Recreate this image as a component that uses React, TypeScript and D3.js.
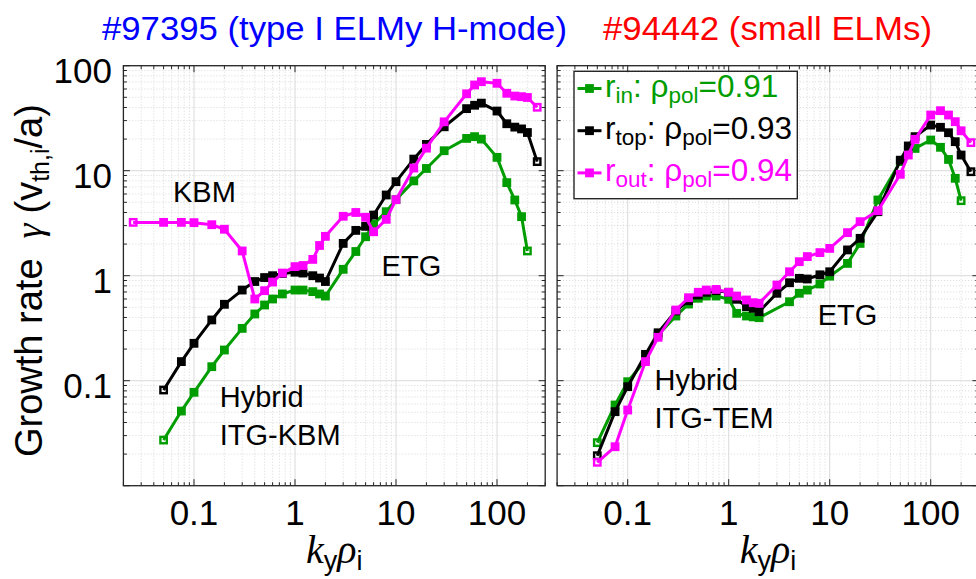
import * as d3 from "d3";

const WIDTH = 976;
const HEIGHT = 579;

const PLOT_TOP = 65.7;
const PLOT_BOTTOM = 485.7;
const PLOT_W = 421.8;
const LEFT_X0 = 123.4;
const RIGHT_X0 = 557.1;

const K_DOMAIN: [number, number] = [0.02, 300];
const G_DOMAIN: [number, number] = [0.01, 100];

const X_TICKS = [0.1, 1, 10, 100];
const X_TICK_LABELS = ["0.1", "1", "10", "100"];
const Y_TICKS = [0.1, 1, 10, 100];
const Y_TICK_LABELS = ["0.1", "1", "10", "100"];

// #97395 (type I ELMy H-mode)
const KY_97395_OUT = [0.025, 0.05, 0.075, 0.1, 0.15, 0.2, 0.3, 0.4, 0.5, 0.6, 0.75, 1, 1.2, 1.5, 1.75, 2, 3, 4, 5, 6, 8, 10, 15, 20, 30, 50, 60, 70, 100, 125, 150, 175, 200, 250];
const GAMMA_97395_OUT = [3.22, 3.22, 3.22, 3.2, 3.06, 2.77, 1.72, 0.6, 0.72, 0.87, 1.06, 1.22, 1.25, 1.43, 1.94, 2.37, 3.68, 4.0, 3.6, 2.62, 3.44, 5.3, 10.6, 16.4, 29.2, 54, 65.5, 70.4, 68, 54.6, 51.4, 50.7, 49.8, 40.2];
const KY_97395 = [0.05, 0.075, 0.1, 0.15, 0.2, 0.3, 0.4, 0.5, 0.6, 0.75, 1, 1.2, 1.5, 1.75, 2, 3, 4, 5, 6, 8, 10, 15, 20, 30, 50, 60, 70, 100, 125, 150, 175, 200, 250];
const GAMMA_97395_TOP = [0.0815, 0.152, 0.227, 0.379, 0.534, 0.73, 0.88, 0.96, 1.0, 1.05, 1.08, 1.06, 1.0, 0.95, 0.88, 2.03, 2.7, 2.95, 3.78, 5.87, 7.86, 12.9, 17.8, 26.2, 39, 42, 44, 37, 28, 26, 25, 23.1, 12.2];
const GAMMA_97395_IN = [0.0272, 0.0514, 0.0775, 0.136, 0.196, 0.315, 0.432, 0.526, 0.6, 0.67, 0.73, 0.73, 0.705, 0.67, 0.64, 1.15, 1.7, 2.35, 3.1, 4.07, 5.3, 8.0, 10.5, 15.5, 20.3, 21.1, 20, 13.4, 7.7, 5.26, 3.65, 1.72];

// #94442 (small ELMs)
const KY_94442 = [0.05, 0.075, 0.1, 0.15, 0.2, 0.3, 0.4, 0.5, 0.6, 0.75, 1, 1.2, 1.5, 1.75, 2, 3, 4, 5, 6, 8, 10, 15, 20, 30, 50, 60, 70, 100, 125, 150, 175, 200, 250];
const GAMMA_94442_OUT = [0.0167, 0.0235, 0.0526, 0.152, 0.259, 0.471, 0.617, 0.695, 0.73, 0.74, 0.695, 0.64, 0.587, 0.553, 0.546, 0.815, 1.09, 1.36, 1.52, 1.66, 1.82, 2.57, 3.27, 4.16, 9.24, 14.1, 19.9, 33.9, 37.3, 33.9, 29.3, 24, 18.5];
const GAMMA_94442_TOP = [0.0193, 0.0507, 0.0877, 0.178, 0.286, 0.462, 0.578, 0.655, 0.695, 0.72, 0.695, 0.596, 0.507, 0.489, 0.454, 0.68, 0.857, 0.944, 0.93, 1.02, 1.09, 1.76, 2.27, 4.07, 12.6, 17.2, 21.1, 27.2, 25.9, 23, 18.9, 14.1, 9.78];
const KY_94442_IN = [0.05, 0.075, 0.1, 0.15, 0.2, 0.3, 0.4, 0.5, 0.6, 0.75, 1, 1.2, 1.5, 1.75, 2, 4, 5, 6, 8, 10, 15, 20, 30, 50, 60, 70, 100, 125, 150, 175, 200];
const GAMMA_94442_IN = [0.0257, 0.0587, 0.0978, 0.157, 0.272, 0.413, 0.537, 0.61, 0.64, 0.64, 0.596, 0.438, 0.413, 0.405, 0.398, 0.565, 0.68, 0.73, 0.834, 0.99, 1.31, 2.03, 5.26, 12.2, 15.7, 16.3, 19.6, 16.7, 12.8, 8.46, 5.18];

// legend
const POSITIONS = ["in", "top", "out"];
const RHO_POL = ["0.91", "0.93", "0.94"];
const COLORS = ["#009d00", "#000000", "#ff00ff"];

const SANS = "'Liberation Sans', Arial, Helvetica, sans-serif";
const SERIF = "'Liberation Serif', 'Times New Roman', serif";

type Pt = [number, number];
type Note = { lines: string[]; k: number; g: number };

const SERIES_97395: Pt[][] = [
  d3.zip(KY_97395, GAMMA_97395_IN) as Pt[],
  d3.zip(KY_97395, GAMMA_97395_TOP) as Pt[],
  d3.zip(KY_97395_OUT, GAMMA_97395_OUT) as Pt[],
];
const SERIES_94442: Pt[][] = [
  d3.zip(KY_94442_IN, GAMMA_94442_IN) as Pt[],
  d3.zip(KY_94442, GAMMA_94442_TOP) as Pt[],
  d3.zip(KY_94442, GAMMA_94442_OUT) as Pt[],
];

const NOTES_97395: Note[] = [
  { lines: ["KBM"], k: 0.062, g: 5.07 },
  { lines: ["ETG"], k: 7.2, g: 1.0 },
  { lines: ["Hybrid", "ITG-KBM"], k: 0.18, g: 0.0565 },
];
const NOTES_94442: Note[] = [
  { lines: ["ETG"], k: 7.6, g: 0.339 },
  { lines: ["Hybrid", "ITG-TEM"], k: 0.184, g: 0.0815 },
];

const isDecade = (v: number) =>
  Math.abs(Math.log10(v) - Math.round(Math.log10(v))) < 1e-6;

function Panel({
  x0,
  series,
  notes,
  yLabels,
  legend,
}: {
  x0: number;
  series: Pt[][];
  notes: Note[];
  yLabels: boolean;
  legend: boolean;
}) {
  const x = d3.scaleLog().domain(K_DOMAIN).range([x0, x0 + PLOT_W]);
  const y = d3.scaleLog().domain(G_DOMAIN).range([PLOT_BOTTOM, PLOT_TOP]);
  const line = d3
    .line<Pt>()
    .x((d) => x(d[0]))
    .y((d) => y(d[1]));

  const xTicks = x.ticks();
  const yTicks = y.ticks();
  const x1 = x0 + PLOT_W;

  return (
    <g>
      {/* minor grid */}
      {xTicks
        .filter((t) => !isDecade(t))
        .map((t) => (
          <line key={"xm" + t} x1={x(t)} x2={x(t)} y1={PLOT_TOP} y2={PLOT_BOTTOM}
            stroke="#cfcfcf" strokeWidth={0.8} strokeDasharray="1 2" />
        ))}
      {yTicks
        .filter((t) => !isDecade(t))
        .map((t) => (
          <line key={"ym" + t} x1={x0} x2={x1} y1={y(t)} y2={y(t)}
            stroke="#cfcfcf" strokeWidth={0.8} strokeDasharray="1 2" />
        ))}
      {/* major grid */}
      {xTicks.filter(isDecade).map((t) => (
        <line key={"xM" + t} x1={x(t)} x2={x(t)} y1={PLOT_TOP} y2={PLOT_BOTTOM}
          stroke="#dadada" strokeWidth={1} />
      ))}
      {yTicks.filter(isDecade).map((t) => (
        <line key={"yM" + t} x1={x0} x2={x1} y1={y(t)} y2={y(t)}
          stroke="#dadada" strokeWidth={1} />
      ))}

      {/* series: filled squares, end points left open */}
      {series.map((s, i) => (
        <g key={i}>
          <path d={line(s) ?? ""} fill="none" stroke={COLORS[i]} strokeWidth={3}
            strokeLinejoin="round" />
          {s.map((d, j) => {
            const end = j === 0 || j === s.length - 1;
            return (
              <rect key={j} x={x(d[0]) - 3.2} y={y(d[1]) - 3.2} width={6.4} height={6.4}
                fill={end ? "none" : COLORS[i]} stroke={COLORS[i]} strokeWidth={2.4} />
            );
          })}
        </g>
      ))}

      {/* annotations */}
      {notes.map((n, i) => (
        <text key={i} x={x(n.k)} y={y(n.g)} fontSize={29} fontFamily={SANS} fill="#000">
          {n.lines.map((l, j) => (
            <tspan key={j} x={x(n.k)} dy={j === 0 ? 0 : 38.3}>{l}</tspan>
          ))}
        </text>
      ))}

      {/* legend */}
      {legend && (
        <g>
          <rect x={574} y={71.3} width={223.3} height={127.4} fill="#fff"
            stroke="#262626" strokeWidth={1.4} />
          {POSITIONS.map((p, i) => {
            const base = 97 + i * 42.2;
            return (
              <g key={p}>
                <line x1={577.5} x2={601.5} y1={base - 8.5} y2={base - 8.5}
                  stroke={COLORS[i]} strokeWidth={3} />
                <rect x={586.3} y={base - 11.7} width={6.4} height={6.4} fill={COLORS[i]}
                  stroke={COLORS[i]} strokeWidth={2.4} />
                <text x={605} y={base} fontSize={31.5} fontFamily={SANS} fill={COLORS[i]}>
                  r<tspan fontSize={22.5} dy={6}>{p}</tspan>
                  <tspan dy={-6}>: ρ</tspan>
                  <tspan fontSize={22.5} dy={6}>pol</tspan>
                  <tspan dy={-6}>={RHO_POL[i]}</tspan>
                </text>
              </g>
            );
          })}
        </g>
      )}

      {/* ticks */}
      {xTicks.map((t) => {
        const len = isDecade(t) ? 6.5 : 3.5;
        return (
          <g key={"xt" + t}>
            <line x1={x(t)} x2={x(t)} y1={PLOT_BOTTOM} y2={PLOT_BOTTOM - len} stroke="#262626" />
            <line x1={x(t)} x2={x(t)} y1={PLOT_TOP} y2={PLOT_TOP + len} stroke="#262626" />
          </g>
        );
      })}
      {yTicks.map((t) => {
        const len = isDecade(t) ? 6.5 : 3.5;
        return (
          <g key={"yt" + t}>
            <line x1={x0} x2={x0 + len} y1={y(t)} y2={y(t)} stroke="#262626" />
            <line x1={x1} x2={x1 - len} y1={y(t)} y2={y(t)} stroke="#262626" />
          </g>
        );
      })}
      <rect x={x0} y={PLOT_TOP} width={PLOT_W} height={PLOT_BOTTOM - PLOT_TOP}
        fill="none" stroke="#262626" strokeWidth={1.3} />

      {/* tick labels */}
      {X_TICKS.map((t, i) => (
        <text key={"xl" + t} x={x(t)} y={525} textAnchor="middle" fontSize={35}
          fontFamily={SANS} fill="#000">
          {X_TICK_LABELS[i]}
        </text>
      ))}
      {yLabels &&
        Y_TICKS.map((t, i) => (
          <text key={"yl" + t} x={112} y={y(t) + 17.5} textAnchor="end" fontSize={35}
            fontFamily={SANS} fill="#000">
            {Y_TICK_LABELS[i]}
          </text>
        ))}

      {/* x label */}
      <text x={x0 + PLOT_W / 2} y={563} textAnchor="middle" fill="#000">
        <tspan fontFamily={SERIF} fontStyle="italic" fontSize={40}>k</tspan>
        <tspan fontFamily={SANS} fontSize={27} dy={7}>y</tspan>
        <tspan fontFamily={SERIF} fontStyle="italic" fontSize={40} dy={-7}>ρ</tspan>
        <tspan fontFamily={SANS} fontSize={27} dy={7}>i</tspan>
      </text>
    </g>
  );
}

export default function App() {
  return (
    <svg width={WIDTH} height={HEIGHT} style={{ position: "absolute", left: 0, top: 0, background: "#fff" }}>
      <rect width={WIDTH} height={HEIGHT} fill="#fff" />
      <text x={102} y={39.5} fontSize={33} fontFamily={SANS} fill="#0000ff"
        textLength={465} lengthAdjust="spacingAndGlyphs">
        #97395 (type I ELMy H-mode)
      </text>
      <text x={603} y={39.5} fontSize={33} fontFamily={SANS} fill="#ff0000"
        textLength={329} lengthAdjust="spacingAndGlyphs">
        #94442 (small ELMs)
      </text>

      <text transform="translate(42,457) rotate(-90)" fontSize={38} fontFamily={SANS} fill="#000">
        Growth rate
        <tspan dx={20} fontFamily={SERIF} fontStyle="italic">γ</tspan>
        <tspan dx={10}>(v</tspan>
        <tspan fontSize={25} dy={7}>th,i</tspan>
        <tspan dy={-7}>/a)</tspan>
      </text>

      <Panel x0={LEFT_X0} series={SERIES_97395} notes={NOTES_97395} yLabels legend={false} />
      <Panel x0={RIGHT_X0} series={SERIES_94442} notes={NOTES_94442} yLabels={false} legend />
    </svg>
  );
}
